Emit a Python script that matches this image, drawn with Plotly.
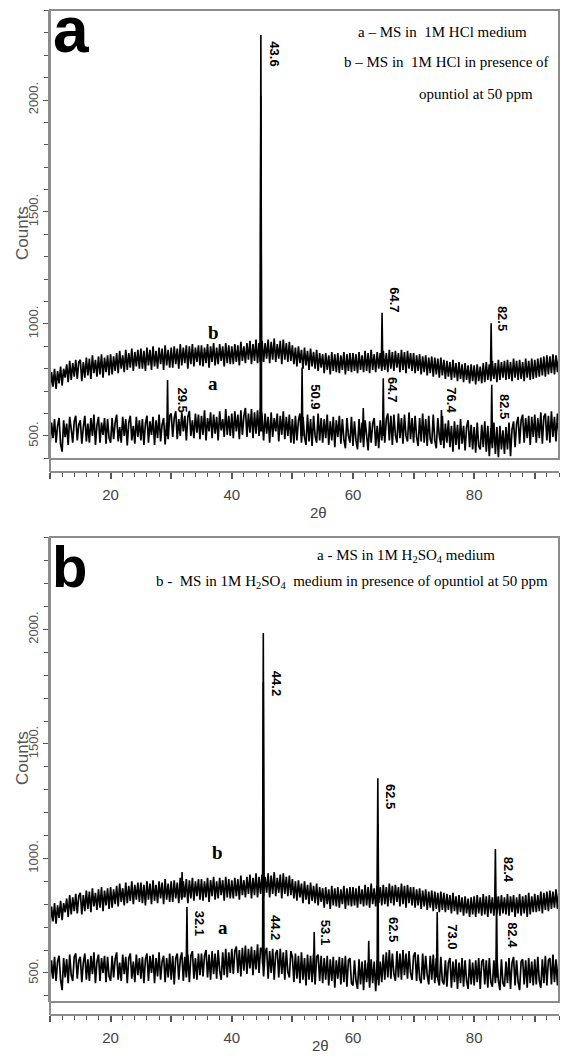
import numpy as np
import plotly.graph_objects as go

# ---------------- data ----------------
two_theta = np.arange(10.0, 94.001, 0.25)          # sampling grid, degrees 2θ

# Panel a : 1M HCl  (rows of 5 degrees)
hcl_a = [455, 560, 490, 575, 470, 545, 580, 462, 430, 570, 495, 555, 460, 585, 530, 470, 565, 590, 480, 550,
         570, 465, 540, 590, 475, 555, 470, 580, 500, 595, 460, 548, 585, 470, 560, 505, 580, 465, 575, 490,
         470, 580, 485, 560, 595, 475, 540, 470, 585, 500, 575, 458, 560, 590, 480, 545, 465, 585, 495, 570,
         480, 575, 460, 555, 590, 470, 565, 505, 585, 460, 570, 490, 595, 475, 550, 580, 462, 560, 485, 590,
         600, 495, 580, 610, 485, 575, 500, 605, 520, 590, 480, 585, 612, 500, 570, 490, 600, 515, 595, 485,
         590, 505, 615, 480, 580, 520, 605, 490, 595, 510, 585, 480, 610, 525, 575, 495, 620, 505, 590, 500,
         600, 490, 610, 520, 595, 485, 615, 505, 590, 625, 495, 600, 515, 620, 490, 605, 510, 615, 500, 625,
         590, 480, 600, 510, 585, 470, 605, 495, 580, 520, 600, 475, 590, 505, 610, 485, 585, 500, 595, 470,
         575, 465, 590, 480, 570, 600, 470, 585, 495, 460, 595, 475, 575, 455, 590, 500, 470, 600, 480, 580,
         470, 575, 490, 595, 460, 565, 480, 585, 450, 570, 495, 590, 465, 575, 485, 445, 580, 500, 470, 585,
         455, 565, 480, 440, 575, 470, 560, 450, 570, 485, 435, 565, 470, 555, 580, 455, 545, 445, 570, 480,
         585, 470, 575, 600, 480, 590, 460, 595, 505, 470, 600, 490, 580, 465, 595, 500, 475, 605, 485, 580,
         470, 590, 495, 455, 580, 475, 600, 470, 575, 455, 590, 485, 465, 595, 480, 445, 580, 500, 460, 590,
         445, 555, 470, 570, 450, 545, 430, 565, 460, 550, 440, 575, 465, 545, 435, 540, 570, 450, 550, 440,
         540, 425, 560, 455, 440, 550, 450, 565, 430, 545, 410, 535, 445, 560, 420, 540, 405, 545, 440, 525,
         420, 540, 440, 560, 410, 530, 565, 450, 555, 585, 465, 570, 595, 470, 580, 490, 590, 460, 585, 495,
         595, 470, 580, 490, 605, 465, 585, 600, 480, 590, 470, 610, 495, 585, 475, 600, 505]
hcl_b = [700, 785, 720, 800, 710, 790, 735, 810, 725, 800, 760, 820, 740, 835, 750, 825, 765, 840, 755, 830,
         840, 745, 830, 760, 850, 770, 845, 755, 860, 780, 840, 765, 855, 775, 865, 760, 850, 785, 860, 770,
         865, 775, 855, 790, 870, 780, 880, 800, 860, 785, 885, 795, 870, 805, 890, 790, 875, 810, 885, 800,
         890, 800, 880, 790, 895, 815, 885, 795, 900, 810, 880, 800, 895, 820, 890, 795, 905, 815, 885, 805,
         895, 805, 900, 820, 890, 800, 910, 815, 895, 825, 905, 800, 900, 820, 910, 810, 895, 830, 905, 815,
         905, 810, 895, 825, 910, 805, 900, 830, 915, 815, 895, 820, 910, 835, 900, 810, 915, 825, 905, 820,
         900, 820, 910, 830, 905, 815, 920, 835, 900, 825, 915, 840, 925, 820, 910, 835, 930, 825, 915, 840,
         925, 830, 915, 845, 930, 825, 920, 840, 935, 830, 910, 845, 925, 820, 930, 840, 915, 830, 920, 835,
         905, 820, 895, 810, 900, 825, 885, 800, 895, 815, 880, 795, 890, 810, 875, 800, 885, 790, 870, 805,
         865, 780, 870, 795, 860, 775, 875, 790, 865, 785, 870, 780, 860, 795, 875, 775, 865, 790, 870, 785,
         870, 790, 865, 780, 875, 795, 860, 785, 880, 790, 870, 780, 885, 795, 865, 785, 875, 800, 870, 790,
         880, 795, 870, 785, 885, 800, 875, 790, 880, 805, 870, 785, 885, 795, 875, 780, 880, 800, 870, 790,
         870, 780, 860, 790, 865, 775, 855, 785, 860, 770, 850, 780, 855, 765, 850, 775, 845, 760, 850, 770,
         840, 755, 835, 765, 830, 750, 840, 760, 825, 745, 830, 755, 820, 740, 825, 750, 815, 735, 820, 745,
         815, 730, 820, 745, 810, 735, 825, 740, 830, 750, 820, 745, 835, 755, 825, 740, 840, 750, 830, 760,
         835, 750, 840, 755, 830, 745, 845, 760, 835, 750, 840, 755, 830, 745, 845, 760, 835, 750, 845, 755,
         840, 760, 845, 765, 850, 770, 855, 765, 860, 775, 855, 780, 865, 775, 860, 785, 860]

hcl_a_peak_pos = [29.4, 44.8, 51.6, 61.7, 65.0, 74.6, 82.9]
hcl_a_peak_top = [750, 2020, 805, 625, 758, 616, 728]
hcl_a_peak_base = [500, 520, 500, 510, 500, 480, 470]
hcl_b_peak_pos = [44.8, 64.8, 82.8]
hcl_b_peak_top = [2290, 1050, 1003]
hcl_b_peak_base = [830, 810, 770]

# Panel b : 1M H2SO4  (rows of 5 degrees)
h2so4_a = [460, 555, 475, 570, 465, 550, 575, 470, 425, 565, 480, 560, 455, 580, 490, 465, 570, 585, 475, 555,
           570, 460, 545, 585, 470, 560, 465, 575, 495, 590, 455, 550, 580, 465, 565, 500, 575, 460, 570, 485,
           465, 575, 480, 560, 590, 470, 545, 465, 580, 495, 570, 455, 565, 585, 475, 550, 460, 580, 490, 565,
           475, 570, 455, 560, 585, 465, 575, 500, 580, 455, 565, 485, 590, 470, 550, 575, 460, 565, 480, 585,
           470, 575, 450, 565, 585, 470, 560, 590, 465, 570, 480, 580, 460, 575, 595, 475, 565, 470, 585, 490,
           585, 485, 575, 600, 480, 580, 470, 595, 495, 585, 475, 600, 510, 470, 590, 490, 605, 480, 590, 500,
           605, 495, 595, 615, 500, 600, 485, 610, 510, 620, 495, 605, 520, 615, 490, 600, 515, 625, 500, 610,
           600, 485, 590, 610, 475, 595, 500, 605, 470, 585, 600, 480, 605, 495, 590, 470, 600, 505, 480, 595,
           570, 460, 585, 475, 575, 455, 590, 470, 565, 445, 580, 470, 575, 460, 585, 450, 570, 580, 465, 575,
           455, 565, 470, 575, 445, 560, 465, 570, 435, 555, 475, 570, 450, 565, 460, 575, 440, 555, 565, 455,
           445, 555, 465, 430, 560, 450, 550, 425, 555, 460, 545, 435, 560, 455, 550, 420, 555, 445, 550, 460,
           580, 470, 590, 480, 600, 475, 585, 495, 465, 595, 480, 585, 470, 600, 490, 585, 475, 595, 500, 470,
           575, 590, 465, 580, 475, 455, 585, 470, 575, 490, 450, 575, 470, 580, 455, 565, 475, 445, 570, 465,
           450, 555, 440, 545, 565, 435, 550, 460, 560, 430, 545, 455, 565, 440, 555, 465, 430, 560, 450, 545,
           445, 555, 460, 565, 430, 550, 560, 450, 555, 435, 565, 460, 440, 555, 455, 570, 465, 425, 560, 455,
           440, 550, 455, 565, 430, 545, 570, 445, 555, 460, 425, 550, 560, 450, 555, 435, 565, 455, 550, 445,
           560, 450, 570, 465, 435, 560, 455, 575, 445, 555, 565, 450, 580, 460, 560, 445, 570]
h2so4_b = [705, 790, 725, 805, 715, 795, 740, 815, 730, 805, 765, 825, 745, 840, 755, 830, 770, 845, 760, 835,
           850, 755, 840, 770, 860, 780, 855, 765, 870, 790, 850, 775, 865, 785, 875, 770, 860, 795, 870, 780,
           875, 785, 865, 800, 880, 790, 890, 810, 870, 795, 895, 805, 880, 815, 900, 800, 885, 820, 895, 810,
           895, 805, 885, 795, 900, 820, 890, 800, 905, 815, 885, 805, 900, 825, 895, 800, 910, 820, 890, 810,
           900, 810, 905, 825, 895, 805, 915, 820, 900, 830, 910, 805, 905, 825, 915, 815, 900, 835, 910, 820,
           910, 815, 900, 830, 915, 810, 905, 835, 920, 820, 900, 825, 915, 840, 905, 815, 920, 830, 910, 825,
           905, 825, 915, 835, 910, 820, 925, 840, 905, 830, 920, 845, 930, 825, 915, 840, 935, 830, 920, 845,
           930, 835, 920, 850, 935, 830, 925, 845, 940, 835, 915, 850, 930, 825, 935, 845, 920, 835, 925, 840,
           910, 825, 900, 815, 905, 830, 890, 805, 900, 820, 885, 800, 895, 815, 880, 805, 890, 795, 875, 810,
           870, 785, 875, 800, 865, 780, 880, 795, 870, 790, 875, 785, 865, 800, 880, 780, 870, 795, 875, 790,
           875, 795, 870, 785, 880, 800, 865, 790, 885, 795, 875, 785, 890, 800, 870, 790, 880, 805, 875, 795,
           885, 800, 875, 790, 890, 805, 880, 795, 885, 810, 875, 790, 890, 800, 880, 785, 885, 805, 875, 795,
           875, 785, 865, 795, 870, 780, 860, 790, 865, 775, 855, 785, 860, 770, 855, 780, 850, 765, 855, 775,
           850, 765, 845, 775, 840, 760, 850, 770, 835, 755, 840, 765, 830, 750, 835, 760, 825, 745, 830, 755,
           835, 745, 840, 760, 830, 750, 845, 755, 835, 745, 840, 760, 830, 750, 845, 755, 835, 750, 840, 760,
           830, 755, 845, 750, 835, 765, 840, 745, 830, 760, 845, 750, 835, 760, 840, 745, 850, 755, 835, 765,
           845, 765, 840, 770, 855, 760, 850, 775, 855, 770, 860, 780, 855, 785, 865, 780, 865]

h2so4_a_peak_pos = [32.6, 45.2, 53.6, 62.6, 64.1, 73.9, 83.7]
h2so4_a_peak_top = [788, 1770, 679, 640, 1150, 766, 830]
h2so4_a_peak_base = [520, 540, 500, 480, 470, 480, 480]
h2so4_b_peak_pos = [31.8, 45.2, 64.1, 83.5]
h2so4_b_peak_top = [941, 1985, 1350, 1041]
h2so4_b_peak_base = [830, 860, 830, 780]

y_tick_vals = [500, 1000, 1500, 2000]
y_tick_text = ["500.", "1000.", "1500.", "2000."]
x_tick_vals = [10, 20, 30, 40, 50, 60, 70, 80, 90]
x_tick_text = [" ", "20", " ", "40", " ", "60", " ", "80", " "]

# peak labels: (text, 2θ, counts)
hcl_labels = [("43.6", 47.1, 2205), ("64.7", 66.9, 1107), ("82.5", 84.6, 1027),
              ("29.5", 31.9, 660), ("50.9", 53.7, 674), ("64.7", 66.6, 705),
              ("76.4", 76.3, 660), ("82.5", 84.9, 630)]
h2so4_labels = [("44.2", 47.5, 1766), ("62.5", 66.1, 1269), ("82.4", 85.6, 950),
                ("32.1", 34.8, 718), ("44.2", 47.1, 697), ("53.1", 55.4, 679),
                ("62.5", 66.6, 688), ("73.0", 76.3, 657), ("82.4", 86.2, 666)]

for arr in (hcl_a, hcl_b, h2so4_a, h2so4_b):
    assert len(arr) == len(two_theta), len(arr)

# ---------------- figure ----------------
W, H = 567, 1056
SANS = "Liberation Sans, Arial, sans-serif"
SERIF = "Liberation Serif, Times New Roman, serif"
FRAME = "#8c8c8c"
INK = "#000000"


def peak_xy(pos, base, top):
    xs, ys = [], []
    for p, b, t in zip(pos, base, top):
        xs += [p - 0.12, p, p + 0.12, None]
        ys += [b, t, b, None]
    return xs, ys


fig = go.Figure()

panels = [
    ("x", "y", hcl_a, hcl_b,
     (hcl_a_peak_pos, hcl_a_peak_base, hcl_a_peak_top),
     (hcl_b_peak_pos, hcl_b_peak_base, hcl_b_peak_top)),
    ("x2", "y2", h2so4_a, h2so4_b,
     (h2so4_a_peak_pos, h2so4_a_peak_base, h2so4_a_peak_top),
     (h2so4_b_peak_pos, h2so4_b_peak_base, h2so4_b_peak_top)),
]
for xa, ya, sa, sb, pa, pb in panels:
    for s in (sa, sb):
        fig.add_trace(go.Scatter(x=two_theta, y=s, mode="lines", xaxis=xa, yaxis=ya,
                                 line=dict(color=INK, width=1.7), hoverinfo="skip"))
    for p in (pa, pb):
        px_, py_ = peak_xy(*p)
        fig.add_trace(go.Scatter(x=px_, y=py_, mode="lines", xaxis=xa, yaxis=ya,
                                 line=dict(color=INK, width=1.6), hoverinfo="skip"))

PLOT_W = W - 50 - 8


def fy(py):
    return 1 - py / H


def fx(px):
    return (px - 50) / PLOT_W


axis_common = dict(showgrid=False, zeroline=False)
xcommon = dict(axis_common, range=[10, 94], domain=[0, 1], showline=True, linecolor=FRAME,
               linewidth=2, ticks="outside", ticklen=6, tickwidth=1.5, tickcolor="#555",
               tickmode="array", tickvals=x_tick_vals, ticktext=x_tick_text,
               tickfont=dict(family=SANS, size=15, color="#444"), ticklabelstandoff=3,
               minor=dict(tick0=10, dtick=2, ticks="outside", ticklen=4, tickwidth=1.2,
                          tickcolor="#555", showgrid=False),
               anchor="free")
ycommon = dict(axis_common, showline=True, linecolor=FRAME, linewidth=2,
               ticks="outside", ticklen=5, tickwidth=1.2, tickcolor="#555",
               tickmode="array", tickvals=y_tick_vals, ticktext=y_tick_text, tickangle=-90,
               tickfont=dict(family=SANS, size=13, color="#555"),
               minor=dict(tick0=0, dtick=100, ticks="outside", ticklen=4, tickwidth=1.2,
                          tickcolor="#555", showgrid=False))

fig.update_layout(
    width=W, height=H, margin=dict(l=50, r=8, t=0, b=0),
    paper_bgcolor="white", plot_bgcolor="white", showlegend=False,
    xaxis=dict(xcommon, position=fy(472)),
    yaxis=dict(ycommon, domain=[fy(459), fy(10)], range=[397, 2402], anchor="x"),
    xaxis2=dict(xcommon, position=fy(1015)),
    yaxis2=dict(ycommon, domain=[fy(1002), fy(537)], range=[373, 2404], anchor="x2"),
)

shapes = []
for top, bot, axis_y in ((10, 459, 472), (537, 1002, 1015)):
    shapes.append(dict(type="rect", xref="paper", yref="paper", x0=0, x1=1,
                       y0=fy(bot), y1=fy(top), line=dict(color=FRAME, width=2)))
    shapes.append(dict(type="line", xref="paper", yref="paper", x0=0, x1=0,
                       y0=fy(axis_y), y1=fy(bot), line=dict(color=FRAME, width=2)))
fig.update_layout(shapes=shapes)

ann = []
for labels, xr, yr in ((hcl_labels, "x", "y"), (h2so4_labels, "x2", "y2")):
    for t, xv, yv in labels:
        ann.append(dict(text=t, x=xv, y=yv, xref=xr, yref=yr, showarrow=False,
                        textangle=90, font=dict(family=SANS, size=13, color=INK,
                                                weight="bold")))

# series labels a / b
for t, xv, yv, xr, yr in (("b", 36.9, 960, "x", "y"), ("a", 36.9, 732, "x", "y"),
                          ("b", 37.6, 1024, "x2", "y2"), ("a", 38.5, 697, "x2", "y2")):
    ann.append(dict(text=t, x=xv, y=yv, xref=xr, yref=yr, showarrow=False,
                    font=dict(family=SERIF, size=19, color=INK, weight="bold")))

# legends
legend_lines = [
    ("a – MS in  1M HCl medium", 442, 32),
    ("b – MS in  1M HCl in presence of", 446, 62),
    ("opuntiol at 50 ppm", 476, 94),
    ("a - MS in 1M H<sub>2</sub>SO<sub>4</sub> medium", 406, 556),
    ("b -  MS in 1M H<sub>2</sub>SO<sub>4</sub>  medium in presence of opuntiol at 50 ppm", 352, 582),
]
for t, px, py in legend_lines:
    ann.append(dict(text=t, x=fx(px), y=fy(py), xref="paper", yref="paper",
                    showarrow=False, xanchor="center", yanchor="middle",
                    font=dict(family=SERIF, size=15, color=INK)))

# panel letters
ann.append(dict(text="a", x=fx(51), y=fy(30), xref="paper", yref="paper", showarrow=False,
                xanchor="left", yanchor="middle",
                font=dict(family=SANS, size=64, color=INK, weight="bold")))
ann.append(dict(text="b", x=fx(50), y=fy(566), xref="paper", yref="paper", showarrow=False,
                xanchor="left", yanchor="middle",
                font=dict(family=SANS, size=58, color=INK, weight="bold")))

# axis titles
for py in (233, 758):
    ann.append(dict(text="Counts", x=fx(22), y=fy(py), xref="paper", yref="paper",
                    showarrow=False, textangle=-90, xanchor="center", yanchor="middle",
                    font=dict(family=SANS, size=17, color="#555")))
for px, py in ((318, 512), (320, 1045)):
    ann.append(dict(text="2θ", x=fx(px), y=fy(py), xref="paper", yref="paper",
                    showarrow=False, xanchor="center", yanchor="middle",
                    font=dict(family=SANS, size=15, color="#444")))

fig.update_layout(annotations=ann)
fig.write_html("out.html")
